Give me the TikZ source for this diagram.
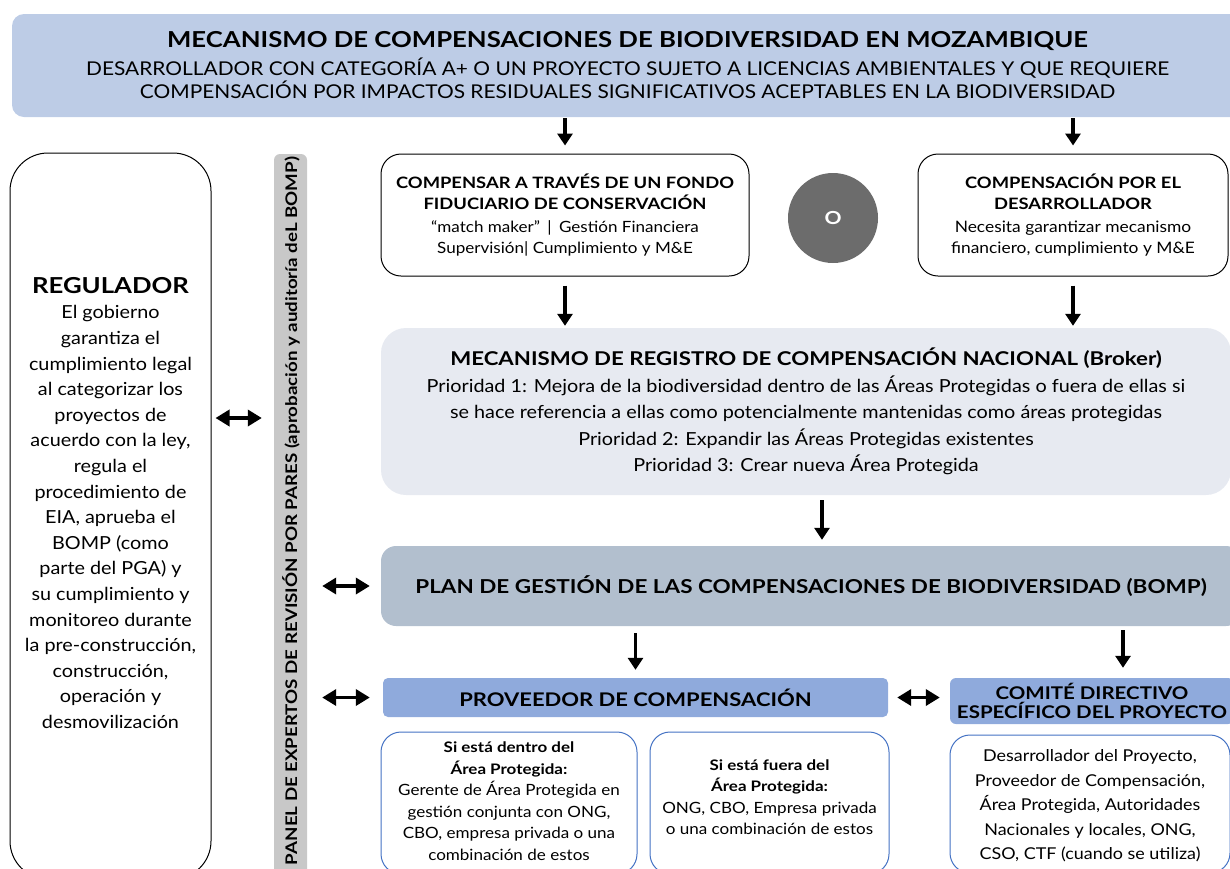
\documentclass[tikz,border=0pt]{standalone}
\usepackage{fontspec}
\setmainfont{Lato}[FakeStretch=1.1, BoldFeatures={FakeStretch=1.17}]
\usetikzlibrary{arrows.meta}
\definecolor{cbanner}{RGB}{189,204,230}
\definecolor{cbroker}{RGB}{231,234,241}
\definecolor{cbomp}{RGB}{178,191,206}
\definecolor{cprov}{RGB}{143,170,220}
\definecolor{cblue}{RGB}{68,114,196}
\definecolor{ccirc}{RGB}{108,108,108}
\definecolor{cpanel}{RGB}{200,200,200}
\newcommand\fsz[2]{\fontsize{#1}{#2}\selectfont}
\begin{document}
\begin{tikzpicture}[x=1pt,y=-1pt,
  wbox/.style={draw=black, line width=1pt, rounded corners=20pt, fill=white, inner sep=0pt},
  bbox/.style={draw=cblue, line width=1pt, rounded corners=20pt, fill=white, inner sep=0pt},
  txt/.style={align=center, inner sep=0pt},
  arr/.style={line width=3.5pt, -{Triangle[width=15pt,length=12pt]}},
  darr/.style={line width=3.5pt, {Triangle[width=16pt,length=14pt]}-{Triangle[width=16pt,length=14pt]}}
]
\useasboundingbox (0,0) rectangle (1230,868);
\begin{scope}
\clip (0,0) rectangle (1230,868);
% banner
\node[fill=cbanner, rounded corners=12pt, minimum width=1231pt, minimum height=103pt, inner sep=0pt, align=center, font=\fsz{19}{23}] (banner) at (627.5,65.5)
 {{\bfseries\fsz{22}{26}MECANISMO DE COMPENSACIONES DE BIODIVERSIDAD EN MOZAMBIQUE}\\[5pt]
  DESARROLLADOR CON CATEGORÍA A+ O UN PROYECTO SUJETO A LICENCIAS AMBIENTALES Y QUE REQUIERE\\
  COMPENSACIÓN POR IMPACTOS RESIDUALES SIGNIFICATIVOS ACEPTABLES EN LA BIODIVERSIDAD};
% top boxes
\node[wbox, minimum width=368pt, minimum height=122pt, align=center, font=\fsz{15.5}{21}] (fondo) at (565,215)
 {{\bfseries\fsz{15.7}{21}COMPENSAR A TRAVÉS DE UN FONDO}\\
  {\bfseries\fsz{15.7}{21}FIDUCIARIO DE CONSERVACIÓN}\\[2pt]
  “match maker”\hspace{3pt} |\hspace{3pt} Gestión Financiera\\
  Supervisión| Cumplimiento y M\&E};
\node[circle, fill=ccirc, minimum size=90pt, inner sep=0pt, text=white, font=\bfseries\fsz{18}{20}] (o) at (833,218) {O};
\node[wbox, minimum width=310pt, minimum height=122pt, align=center, font=\fsz{15.8}{21}] (desa) at (1073,215)
 {{\bfseries\fsz{15.7}{21}COMPENSACIÓN POR EL}\\
  {\bfseries\fsz{15.7}{21}DESARROLLADOR}\\[2pt]
  Necesita garantizar mecanismo\\
  financiero, cumplimiento y M\&E};
% broker
\node[fill=cbroker, rounded corners=25pt, minimum width=850pt, minimum height=167pt, inner sep=0pt, align=center, font=\fsz{18}{26.5}] (broker) at (806,411.5)
 {{\bfseries\fsz{19}{26}MECANISMO DE REGISTRO DE COMPENSACIÓN NACIONAL (Broker)}\\
  Prioridad 1: Mejora de la biodiversidad dentro de las Áreas Protegidas o fuera de ellas si\\
  se hace referencia a ellas como potencialmente mantenidas como áreas protegidas\\
  Prioridad 2: Expandir las Áreas Protegidas existentes\\
  Prioridad 3: Crear nueva Área Protegida};
% BOMP
\node[fill=cbomp, rounded corners=15pt, minimum width=860pt, minimum height=80pt, inner sep=0pt, font=\bfseries\fsz{19.2}{24}] (bomp) at (811,586)
 {PLAN DE GESTIÓN DE LAS COMPENSACIONES DE BIODIVERSIDAD (BOMP)};
% proveedor & comite
\node[fill=cprov, rounded corners=5pt, minimum width=505pt, minimum height=39pt, inner sep=0pt, font=\bfseries\fsz{18.8}{22}] (prov) at (635.5,697.5)
 {PROVEEDOR DE COMPENSACIÓN};
\node[fill=cprov, rounded corners=6pt, minimum width=284pt, minimum height=46pt, inner sep=0pt, align=center, font=\bfseries\fsz{17.5}{19}] (comite) at (1092,701)
 {COMITÉ DIRECTIVO\\ESPECÍFICO DEL PROYECTO};
% sub boxes
\node[bbox, minimum width=256pt, minimum height=142pt] (subA) at (509,803) {};
\node[bbox, minimum width=239pt, minimum height=142pt] (subB) at (769.5,803) {};
\node[bbox, minimum width=280pt, minimum height=138pt] (subC) at (1090,804) {};
\node[txt, font=\fsz{15.5}{21.5}] (tA) at (509,801)
 {{\bfseries\fsz{14.5}{21.5}Si está dentro del}\\
  {\bfseries\fsz{14.5}{21.5}Área Protegida:}\\
  Gerente de Área Protegida en\\
  gestión conjunta con ONG,\\
  CBO, empresa privada o una\\
  combinación de estos};
\node[txt, font=\fsz{15.5}{21.5}] (tB) at (769.5,797)
 {{\bfseries\fsz{14.5}{21.5}Si está fuera del}\\
  {\bfseries\fsz{14.5}{21.5}Área Protegida:}\\
  ONG, CBO, Empresa privada\\
  o una combinación de estos};
\node[txt, font=\fsz{16.3}{24.5}] (tC) at (1090,806)
 {Desarrollador del Proyecto,\\
  Proveedor de Compensación,\\
  Área Protegida, Autoridades\\
  Nacionales y locales, ONG,\\
  CSO, CTF (cuando se utiliza)};
% regulator
\node[draw=black, line width=1pt, rounded corners=38pt, minimum width=201pt, minimum height=726pt, inner sep=0pt] (reg) at (110.5,516) {};
\node[txt, font=\fsz{18}{25.6}] (regt) at (110.5,503)
 {{\bfseries\fsz{22}{28}REGULADOR}\\
  El gobierno\\ garantiza el\\ cumplimiento legal\\ al categorizar los\\ proyectos de\\
  acuerdo con la ley,\\ regula el\\ procedimiento de\\ EIA, aprueba el\\ BOMP (como\\
  parte del PGA) y\\ su cumplimiento y\\ monitoreo durante\\ la pre-construcción,\\
  construcción,\\ operación y\\ desmovilización};
% panel
\node[fill=cpanel, rounded corners=6pt, minimum width=33pt, minimum height=740pt, inner sep=0pt] (panel) at (290.5,524) {};
\node[txt, rotate=90, font=\bfseries\fsz{16}{18}] (panelt) at (291,511)
 {PANEL DE EXPERTOS DE REVISIÓN POR PARES (aprobación y auditoría deL BOMP)};
% arrows
\draw[arr, shorten <=1pt, shorten >=8pt] (banner.south -| fondo.north) -- (fondo.north);
\draw[arr, shorten <=1pt, shorten >=8pt] (banner.south -| desa.north) -- (desa.north);
\draw[arr, shorten <=9pt, shorten >=2pt] (fondo.south) -- (fondo.south |- broker.north);
\draw[arr, shorten <=9pt, shorten >=2pt] (desa.south) -- (desa.south |- broker.north);
\draw[arr, shorten <=5pt, shorten >=6pt] ([xshift=16pt]broker.south) -- ([xshift=16pt]broker.south |- bomp.north);
\draw[arr, shorten <=7pt, shorten >=8pt] (bomp.south -| prov.north) -- (prov.north);
\draw[arr, shorten <=4pt, shorten >=10pt] ([xshift=31pt]comite.north |- bomp.south) -- ([xshift=31pt]comite.north);
\coordinate (k1) at (0,418);
\draw[darr, shorten <=4pt, shorten >=12pt] (reg.east |- k1) -- (panel.west |- k1);
\draw[darr, shorten <=15pt, shorten >=11pt] (panel.east |- bomp.west) -- (bomp.west);
\draw[darr, shorten <=15pt, shorten >=13pt] (panel.east |- prov.west) -- (prov.west);
\draw[darr, shorten <=9pt, shorten >=10pt] (prov.east) -- (prov.east -| comite.west);
\end{scope}
\end{tikzpicture}
\end{document}
